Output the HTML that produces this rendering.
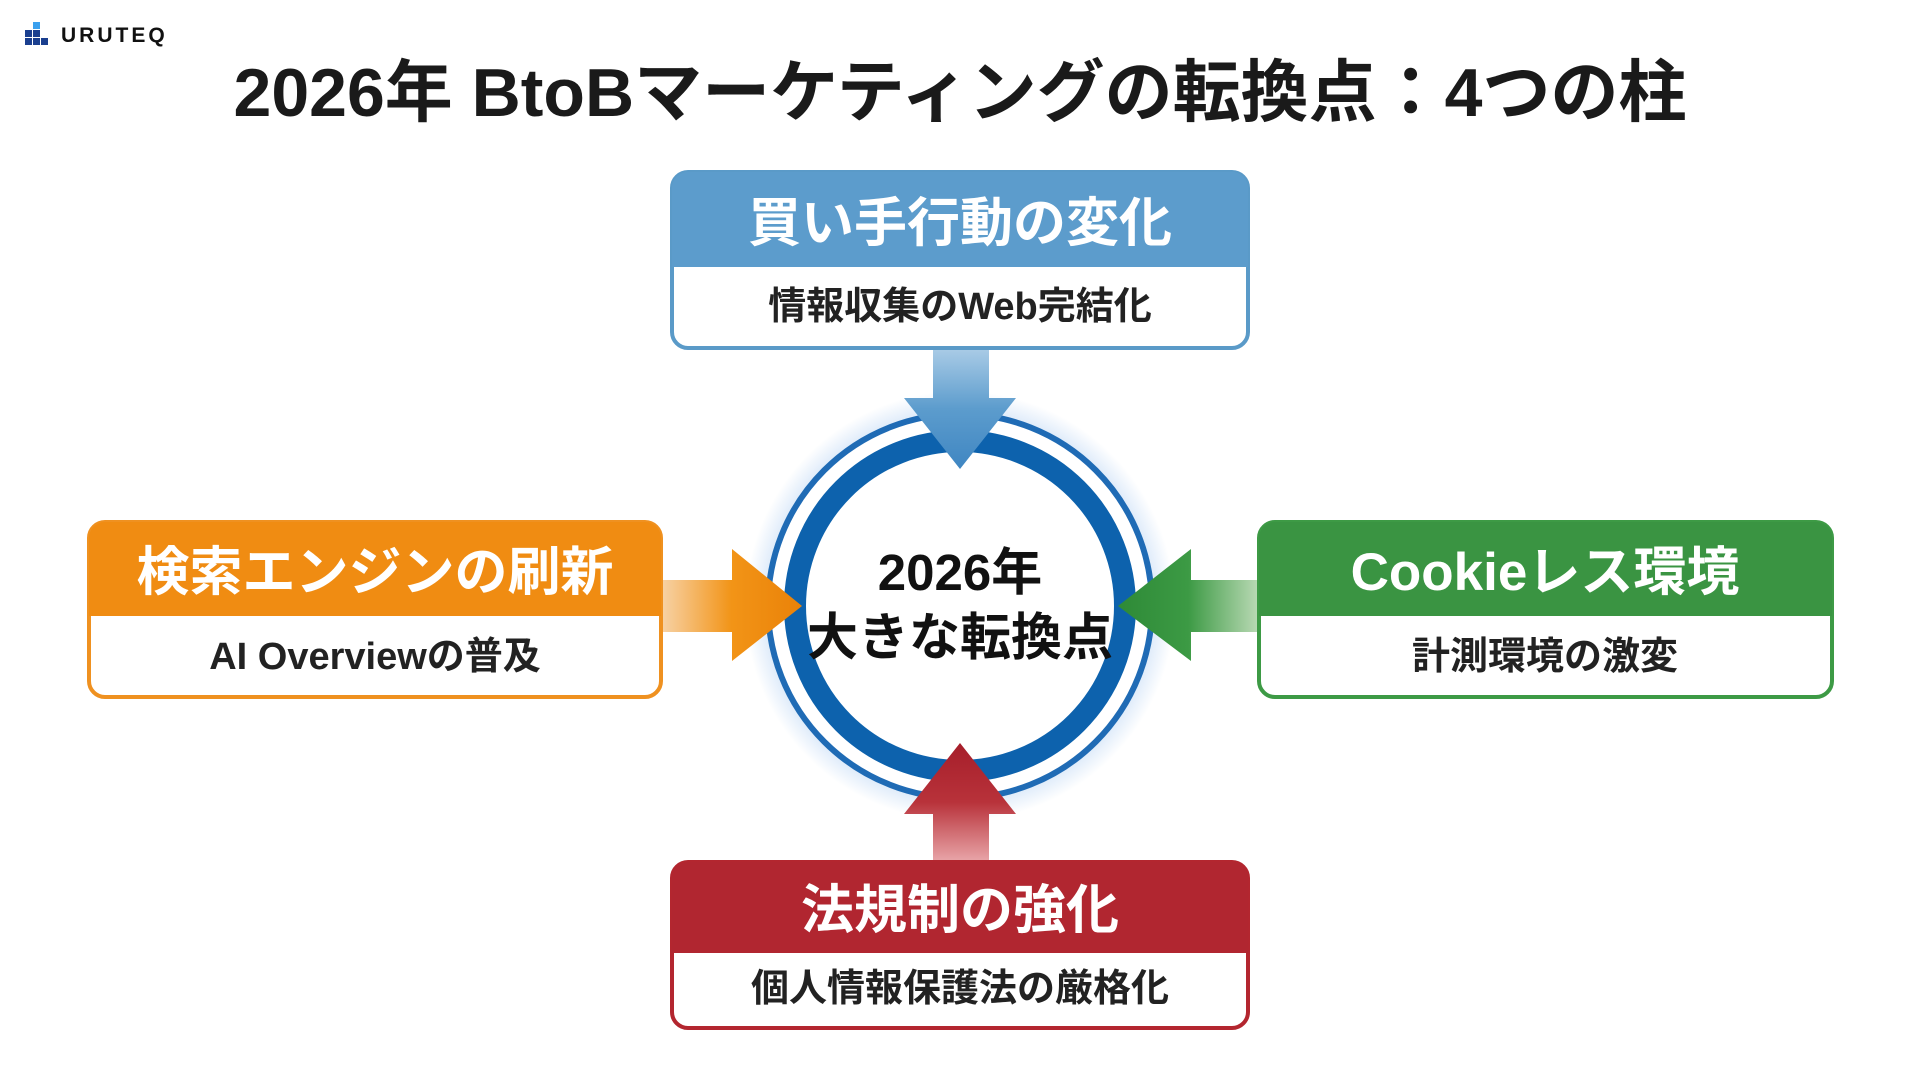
<!DOCTYPE html>
<html><head><meta charset="utf-8"><style>
html,body{margin:0;padding:0;background:#fff;}
svg{display:block;}
text{font-family:"Liberation Sans","Noto Sans CJK JP",sans-serif;font-weight:bold;}
</style></head><body>
<svg width="1920" height="1080" viewBox="0 0 1920 1080" xmlns="http://www.w3.org/2000/svg">
<defs>
<radialGradient id="glow" cx="0.5" cy="0.5" r="0.5">
<stop offset="0.75" stop-color="#4a90e2" stop-opacity="0.45"/>
<stop offset="1" stop-color="#4a90e2" stop-opacity="0"/>
</radialGradient>
<linearGradient id="gTop" x1="0" y1="0" x2="0" y2="1"><stop offset="0" stop-color="#a9cbe6"/><stop offset="0.5" stop-color="#5c9ccd"/><stop offset="1" stop-color="#3f86c2"/></linearGradient>
<linearGradient id="gBot" x1="0" y1="1" x2="0" y2="0"><stop offset="0" stop-color="#e8a5a8"/><stop offset="0.5" stop-color="#b8323a"/><stop offset="1" stop-color="#a61e2a"/></linearGradient>
<linearGradient id="gLeft" x1="0" y1="0" x2="1" y2="0"><stop offset="0" stop-color="#f7d3a8"/><stop offset="0.5" stop-color="#f29417"/><stop offset="1" stop-color="#ea8208"/></linearGradient>
<linearGradient id="gRight" x1="1" y1="0" x2="0" y2="0"><stop offset="0" stop-color="#b9d9b4"/><stop offset="0.5" stop-color="#3c9a44"/><stop offset="1" stop-color="#2e8a37"/></linearGradient>
</defs>
<rect x="25" y="38" width="7" height="7" fill="#1a3f8f"/><rect x="33" y="38" width="7" height="7" fill="#1a3f8f"/><rect x="41" y="38" width="7" height="7" fill="#1a3f8f"/>
<rect x="25" y="30" width="7" height="7" fill="#1a3f8f"/><rect x="33" y="30" width="7" height="7" fill="#1a3f8f"/>
<rect x="33" y="22" width="7" height="7" fill="#3aa0ee"/>
<text x="61" y="42" font-size="21" fill="#111" font-weight="normal" letter-spacing="3">URUTEQ</text>
<text x="960" y="116" font-size="68" fill="#1a1a1a" text-anchor="middle">2026年 BtoBマーケティングの転換点：4つの柱</text>
<circle cx="960" cy="606" r="215" fill="url(#glow)"/>
<circle cx="960" cy="606" r="192" fill="#fff" stroke="#1f6bb5" stroke-width="6"/>
<circle cx="960" cy="606" r="165" fill="#fff" stroke="#0d62ad" stroke-width="22"/>
<polygon points="933,349 989,349 989,398 1016,398 960,469 904,398 933,398" fill="url(#gTop)"/>
<polygon points="933,861 989,861 989,814 1016,814 960,743 904,814 933,814" fill="url(#gBot)"/>
<polygon points="661,580 732,580 732,549 802,606 732,661 732,632 661,632" fill="url(#gLeft)"/>
<polygon points="1258,580 1191,580 1191,549 1118,606 1191,661 1191,632 1258,632" fill="url(#gRight)"/>
<text x="960" y="590" font-size="51" fill="#111" text-anchor="middle">2026年</text>
<text x="960" y="655" font-size="51" fill="#111" text-anchor="middle">大きな転換点</text>
<rect x="672" y="172" width="576" height="176" rx="16" fill="#fff" stroke="#5a9ac8" stroke-width="4"/>
<path d="M672,267 V188 a16,16 0 0 1 16,-16 H1232 a16,16 0 0 1 16,16 V267 Z" fill="#5c9ccc"/>
<text x="960" y="241" font-size="53" fill="#fff" text-anchor="middle">買い手行動の変化</text>
<text x="960" y="319" font-size="38" fill="#222" text-anchor="middle">情報収集のWeb完結化</text>
<rect x="89" y="522" width="572" height="175" rx="16" fill="#fff" stroke="#ef9120" stroke-width="4"/>
<path d="M89,616 V538 a16,16 0 0 1 16,-16 H645 a16,16 0 0 1 16,16 V616 Z" fill="#f08c12"/>
<text x="375" y="590" font-size="53" fill="#fff" text-anchor="middle">検索エンジンの刷新</text>
<text x="375" y="669" font-size="38" fill="#222" text-anchor="middle">AI Overviewの普及</text>
<rect x="1259" y="522" width="573" height="175" rx="16" fill="#fff" stroke="#3d9a45" stroke-width="4"/>
<path d="M1259,616 V538 a16,16 0 0 1 16,-16 H1816 a16,16 0 0 1 16,16 V616 Z" fill="#3a9442"/>
<text x="1545" y="590" font-size="53" fill="#fff" text-anchor="middle">Cookieレス環境</text>
<text x="1545" y="669" font-size="38" fill="#222" text-anchor="middle">計測環境の激変</text>
<rect x="672" y="862" width="576" height="166" rx="16" fill="#fff" stroke="#b3262f" stroke-width="4"/>
<path d="M672,953 V878 a16,16 0 0 1 16,-16 H1232 a16,16 0 0 1 16,16 V953 Z" fill="#b12630"/>
<text x="960" y="928" font-size="53" fill="#fff" text-anchor="middle">法規制の強化</text>
<text x="960" y="1001" font-size="38" fill="#222" text-anchor="middle">個人情報保護法の厳格化</text>
</svg>
</body></html>
